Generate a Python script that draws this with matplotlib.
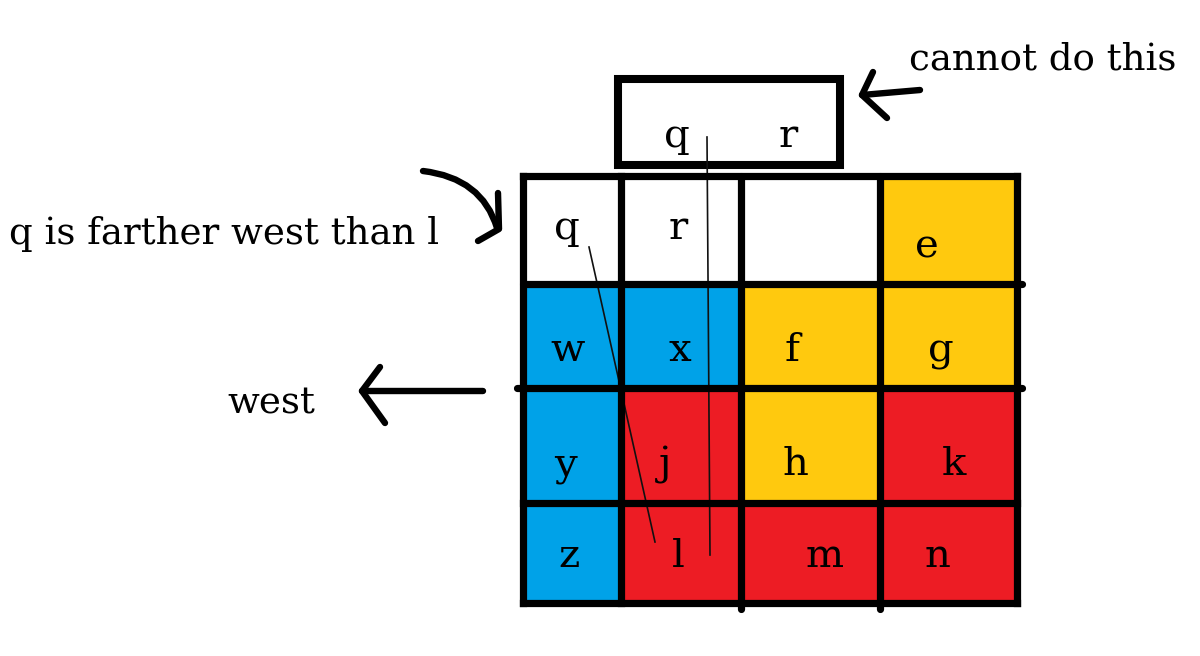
import matplotlib.pyplot as plt
from matplotlib.patches import Rectangle, PathPatch
from matplotlib.path import Path

# grid geometry (pixels of the drawing)
col_edges = [523, 621, 741, 880, 1017]
row_edges = [176, 284, 388, 503, 603]

# cell letters and fills, top row first
letters = [
    ["q", "r", "", "e"],
    ["w", "x", "f", "g"],
    ["y", "j", "h", "k"],
    ["z", "l", "m", "n"],
]
fills = [
    ["white", "white", "white", "yellow"],
    ["blue", "blue", "yellow", "yellow"],
    ["blue", "red", "yellow", "red"],
    ["blue", "red", "red", "red"],
]
colors = {"white": "#ffffff", "blue": "#00a2e8", "yellow": "#ffc90e", "red": "#ed1c24"}

# letter anchors (center x, baseline y)
letter_x = [
    [567, 678, 0, 927],
    [568, 680, 792, 941],
    [565, 665, 796, 954],
    [569, 678, 825, 938],
]
letter_y = [239, 361, 475, 567]
letter_y_e = 257

# box on top
box = [618, 79, 840, 165]
box_letters = ["q", "r"]
box_x = [677, 788]
box_y = 147

fig = plt.figure(figsize=(12, 6.56), dpi=100)
ax = fig.add_axes([0, 0, 1, 1])
ax.set_xlim(0, 1200)
ax.set_ylim(656, 0)
ax.axis("off")

serif = "DejaVu Serif"

# cells
for i in range(4):
    for j in range(4):
        x0, x1 = col_edges[j], col_edges[j + 1]
        y0, y1 = row_edges[i], row_edges[i + 1]
        ax.add_patch(Rectangle((x0, y0), x1 - x0, y1 - y0,
                               facecolor=colors[fills[i][j]], edgecolor="none"))
        if letters[i][j]:
            yy = letter_y_e if letters[i][j] == "e" else letter_y[i]
            ax.text(letter_x[i][j], yy, letters[i][j], ha="center", va="baseline",
                    fontsize=29, family=serif, color="black")

# thin lines through the cells
ax.plot([589, 655], [247, 542], color="#111111", lw=1.2)
ax.plot([707, 710], [137, 555], color="#111111", lw=1.2)

# grid lines
lw = 5.2
ax.plot([col_edges[0], col_edges[0]], [row_edges[0], row_edges[-1]], color="black", lw=lw, solid_capstyle="projecting")
ax.plot([col_edges[-1], col_edges[-1]], [row_edges[0], row_edges[-1]], color="black", lw=lw, solid_capstyle="projecting")
ax.plot([col_edges[1], col_edges[1]], [row_edges[0], row_edges[-1]], color="black", lw=lw, solid_capstyle="projecting")
ax.plot([col_edges[2], col_edges[2]], [row_edges[0], 609], color="black", lw=lw, solid_capstyle="round")
ax.plot([col_edges[3], col_edges[3]], [row_edges[0], 609], color="black", lw=lw, solid_capstyle="round")
ax.plot([col_edges[0], col_edges[-1]], [row_edges[0], row_edges[0]], color="black", lw=lw, solid_capstyle="projecting")
ax.plot([col_edges[0], 1022], [row_edges[1], row_edges[1]], color="black", lw=lw, solid_capstyle="round")
ax.plot([517, 1022], [row_edges[2], row_edges[2]], color="black", lw=lw, solid_capstyle="round")
ax.plot([col_edges[0], col_edges[-1]], [row_edges[3], row_edges[3]], color="black", lw=lw, solid_capstyle="projecting")
ax.plot([col_edges[0], col_edges[-1]], [row_edges[4], row_edges[4]], color="black", lw=lw, solid_capstyle="projecting")

# top box
ax.add_patch(Rectangle((box[0], box[1]), box[2] - box[0], box[3] - box[1],
                       facecolor="white", edgecolor="black", lw=5.8, joinstyle="miter"))
for t, bx in zip(box_letters, box_x):
    ax.text(bx, box_y, t, ha="center", va="baseline", fontsize=29, family=serif)

# arrows
alw = 4.6
ax.plot([920, 862], [90, 95], color="black", lw=alw, solid_capstyle="round")
ax.plot([873, 862, 887], [72, 95, 118], color="black", lw=alw, solid_capstyle="round", solid_joinstyle="round")

ax.plot([483, 362], [391, 391], color="black", lw=alw, solid_capstyle="round")
ax.plot([380, 362, 385], [367, 391, 423], color="black", lw=alw, solid_capstyle="round", solid_joinstyle="round")

curve = Path([(423, 171), (482, 178), (497, 228)], [Path.MOVETO, Path.CURVE3, Path.CURVE3])
ax.add_patch(PathPatch(curve, facecolor="none", edgecolor="black", lw=alw, capstyle="round"))
ax.plot([498, 499, 478], [193, 229, 241], color="black", lw=alw, solid_capstyle="round", solid_joinstyle="round")

# annotations
ax.text(909, 69, "cannot do this", ha="left", va="baseline", fontsize=26.7, family=serif)
ax.text(9, 244, "q is farther west than l", ha="left", va="baseline", fontsize=26.7, family=serif)
ax.text(227, 414, "west", ha="left", va="baseline", fontsize=26.7, family=serif)

fig.savefig("out.png", dpi=100)
